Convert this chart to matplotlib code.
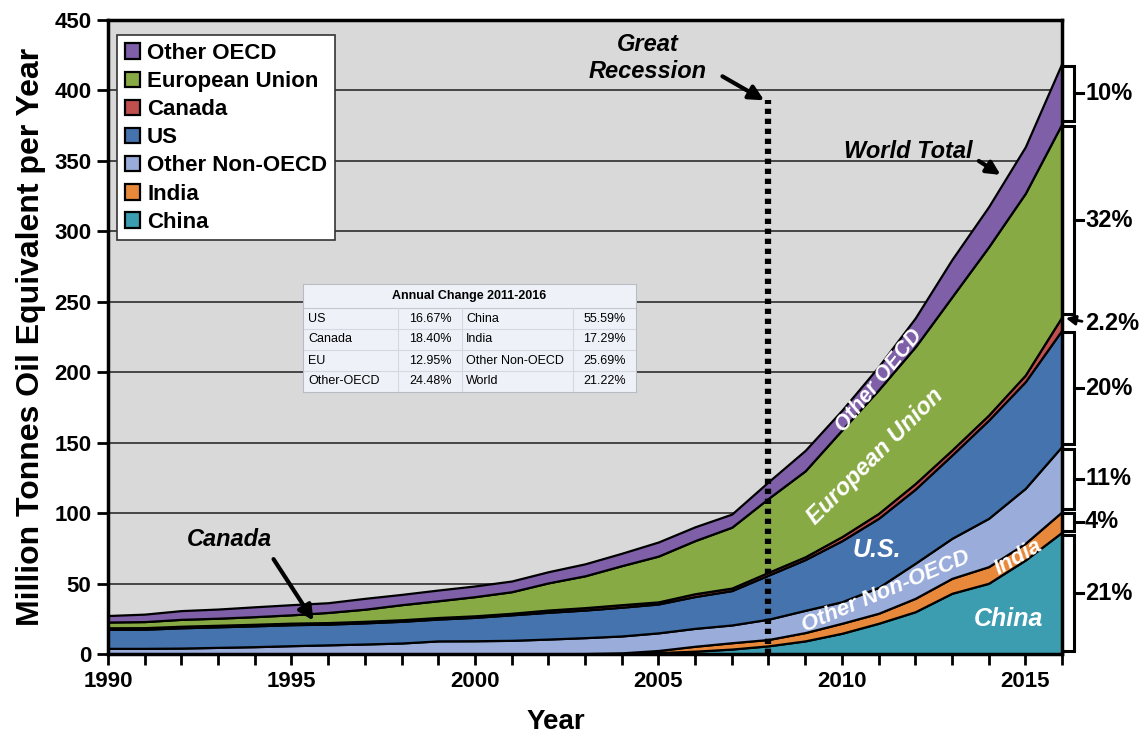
import matplotlib
matplotlib.use('Agg')
import matplotlib.pyplot as plt
import numpy as np

plt.rcParams['font.family'] = ['Liberation Sans', 'DejaVu Sans']

# ---------------- data ----------------
years = list(range(1990, 2017))
china = [0, 0, 0, 0, 0, 0, 0, 0, 0, 0, 0, 0, 0, 0, 0.3, 1.0, 2.0, 3.5, 5.8, 9.3,
         14.7, 21.8, 30.0, 43.1, 50.2, 66.7, 86.5]
india = [0, 0, 0, 0, 0, 0, 0, 0, 0, 0, 0, 0, 0.1, 0.3, 0.5, 1.5, 3.5, 4.5, 4.5, 5.9,
         7.1, 7.1, 9.5, 10.6, 11.8, 11.9, 14.5]
other_non_oecd = [4.0, 4.0, 4.2, 4.7, 5.2, 5.9, 6.5, 7.1, 7.8, 9.3, 9.4, 9.7, 10.5, 11.3,
                  12.0, 12.5, 12.7, 12.6, 14.4, 15.8, 15.3, 18.4, 24.9, 28.4, 34.3, 39.0, 46.5]
us = [13.5, 13.6, 14.4, 14.6, 14.8, 14.9, 14.7, 15.0, 15.4, 15.5, 16.6, 18.1, 19.0, 19.6,
      20.4, 20.5, 22.6, 24.4, 31.3, 36.0, 43.3, 49.0, 52.6, 59.1, 69.7, 75.7, 82.5]
canada = [1.1, 1.1, 1.1, 1.1, 1.1, 1.1, 1.1, 1.1, 1.1, 1.1, 1.1, 1.1, 1.6, 1.7, 1.8, 1.5,
          2.0, 1.8, 2.0, 2.0, 2.9, 3.5, 4.0, 3.6, 3.6, 4.7, 9.5]
eu = [4.1, 4.3, 4.9, 5.0, 5.4, 5.9, 7.2, 8.6, 10.7, 11.9, 13.6, 15.3, 19.3, 22.6, 27.7,
      32.5, 37.7, 43.2, 52.5, 61.0, 75.7, 87.7, 97.0, 108.7, 119.4, 129.0, 137.0]
other_oecd = [4.6, 5.3, 6.2, 6.5, 7.0, 7.2, 6.9, 7.7, 7.3, 7.6, 7.6, 7.6, 7.9, 8.5, 8.8,
              10.0, 9.8, 9.3, 11.8, 14.5, 14.0, 16.5, 20.5, 26.5, 28.5, 33.0, 43.0]

series_names = ['China', 'India', 'Other Non-OECD', 'US', 'Canada',
                'European Union', 'Other OECD']
share_labels = ['21%', '4%', '11%', '20%', '2.2%', '32%', '10%']
colors = ['#3c9cb0', '#e8883a', '#9aacda', '#4573ad', '#c0504d', '#88aa44', '#7e5fa8']

table_title = 'Annual Change 2011-2016'
table_left_names = ['US', 'Canada', 'EU', 'Other-OECD']
table_left_vals = ['16.67%', '18.40%', '12.95%', '24.48%']
table_right_names = ['China', 'India', 'Other Non-OECD', 'World']
table_right_vals = ['55.59%', '17.29%', '25.69%', '21.22%']

recession_year = 2008

# ---------------- figure ----------------
W, H = 1146, 738
fig = plt.figure(figsize=(W / 100, H / 100), dpi=100)
fig.patch.set_facecolor('white')
ax = fig.add_axes([108 / W, 84 / H, 954 / W, 634 / H])
ax.set_facecolor('#d9d9d9')

data = [china, india, other_non_oecd, us, canada, eu, other_oecd]
polys = ax.stackplot(years, *data, colors=colors, edgecolor='black',
                     linewidth=1.6, labels=series_names, zorder=2)

ax.set_xlim(1990, 2016)
ax.set_ylim(0, 450)
ax.set_yticks(np.arange(0, 451, 50))
ax.set_xticks(np.arange(1990, 2016, 5))
ax.set_xticks(np.arange(1990, 2017, 1), minor=True)
ax.yaxis.grid(True, color='#3a3a3a', lw=1.3, zorder=0)
ax.set_axisbelow(True)
for s in ax.spines.values():
    s.set_linewidth(2.5)
    s.set_color('black')
    s.set_zorder(5)
ax.tick_params(axis='both', which='both', direction='out', width=2, length=8,
               labelsize=16, pad=4)
for lab in ax.get_xticklabels() + ax.get_yticklabels():
    lab.set_fontweight('bold')
ax.set_ylabel('Million Tonnes Oil Equivalent per Year', fontsize=23,
              fontweight='bold', labelpad=6)
ax.set_xlabel('Year', fontsize=20, fontweight='bold', labelpad=14)
ax.xaxis.set_label_coords(0.469, -0.086)

# legend
handles = polys[::-1]
leg = ax.legend(handles, series_names[::-1], loc='upper left',
                bbox_to_anchor=(0.0095, 0.976), borderaxespad=0,
                prop={'weight': 'bold', 'size': 16}, fancybox=False,
                edgecolor='#333333', framealpha=1, handlelength=0.7,
                handleheight=0.7, handletextpad=0.3, labelspacing=0.32,
                borderpad=0.35)
leg.get_frame().set_linewidth(1.2)
leg.set_zorder(6)

# Great Recession dotted line
ax.plot([recession_year, recession_year], [0, 393], color='black', lw=4.5,
        linestyle=(0, (0.85, 0.75)), dash_capstyle='butt', zorder=4)
ax.text(2004.71, 423, 'Great\nRecession', ha='center', va='center',
        fontsize=17, fontweight='bold', style='italic', linespacing=1.2, zorder=6)
ax.annotate('', xy=(2007.95, 392), xytext=(2006.68, 411),
            arrowprops=dict(arrowstyle='-|>', color='black', lw=3,
                            mutation_scale=22), zorder=6)

# Canada annotation
ax.text(1993.3, 81, 'Canada', ha='center', va='center', fontsize=17,
        fontweight='bold', style='italic', zorder=6)
ax.annotate('', xy=(1995.64, 22), xytext=(1994.47, 69),
            arrowprops=dict(arrowstyle='-|>', color='black', lw=3,
                            mutation_scale=22), zorder=6)

# World total annotation
ax.text(2011.8, 357, 'World Total', ha='center', va='center', fontsize=17,
        fontweight='bold', style='italic', zorder=6)
ax.annotate('', xy=(2014.39, 339), xytext=(2013.67, 351),
            arrowprops=dict(arrowstyle='-|>', color='black', lw=3,
                            mutation_scale=20), zorder=6)

# in-area labels
lab_kw = dict(color='white', fontweight='bold', style='italic', ha='center',
              va='center', zorder=6, rotation_mode='anchor')
ax.text(2014.55, 25, 'China', fontsize=18, **lab_kw)
ax.text(2014.8, 69, 'India', fontsize=16, rotation=30, **lab_kw)
ax.text(2011.2, 44, 'Other Non-OECD', fontsize=16, rotation=23, **lab_kw)
ax.text(2010.95, 74, 'U.S.', fontsize=18, **lab_kw)
ax.text(2010.92, 140, 'European Union', fontsize=17, rotation=45, **lab_kw)
ax.text(2011.02, 194, 'Other OECD', fontsize=15.5, rotation=51, **lab_kw)

# right-hand share brackets
tops = np.cumsum([d[-1] for d in data])
bottoms = np.concatenate([[0], tops[:-1]])
xl, xv, xt, xlab = 2016.02, 2016.33, 2016.57, 2016.63
for i, lab in enumerate(share_labels):
    lo, hi = bottoms[i], tops[i]
    mid = (lo + hi) / 2
    if series_names[i] == 'Canada':
        ax.annotate('', xy=(2016.03, mid + 4), xytext=(2016.62, mid + 1),
                    arrowprops=dict(arrowstyle='-|>', color='black', lw=2,
                                    mutation_scale=14),
                    annotation_clip=False)
        ax.text(xlab, mid, lab, ha='left', va='center', fontsize=17,
                fontweight='bold', clip_on=False)
        continue
    g = 1.8 if hi - lo > 20 else 0.8
    y0, y1 = lo + g, hi - g
    ax.plot([xl, xv, xv, xl], [y0, y0, y1, y1], color='black', lw=2.2,
            clip_on=False, solid_joinstyle='miter', zorder=6)
    ax.plot([xv, xt], [mid, mid], color='black', lw=2.2, clip_on=False, zorder=6)
    ax.text(xlab, mid, lab, ha='left', va='center', fontsize=17,
            fontweight='bold', clip_on=False)

# ---------------- table ----------------
tx0, tx1, ty0, ty1 = 303, 636, 284, 392
tax = fig.add_axes([tx0 / W, 1 - ty1 / H, (tx1 - tx0) / W, (ty1 - ty0) / H])
tax.set_xlim(tx0, tx1)
tax.set_ylim(ty1, ty0)
tax.set_facecolor('#eef2f8')
for s in tax.spines.values():
    s.set_color('#b8bcc4')
    s.set_linewidth(0.8)
tax.set_xticks([])
tax.set_yticks([])
header_bottom = 308
row_h = (ty1 - header_bottom) / 4
tax.text((tx0 + tx1) / 2, (ty0 + header_bottom) / 2, table_title, ha='center',
         va='center', fontsize=9, fontweight='bold')
tax.axhline(header_bottom, color='#c4c8d0', lw=0.8)
for r in range(4):
    yc = header_bottom + row_h * (r + 0.5)
    if r > 0:
        tax.axhline(header_bottom + row_h * r, color='#d4d8e0', lw=0.8)
    tax.text(308, yc, table_left_names[r], ha='left', va='center', fontsize=9)
    tax.text(452, yc, table_left_vals[r], ha='right', va='center', fontsize=9)
    tax.text(466, yc, table_right_names[r], ha='left', va='center', fontsize=9)
    tax.text(626, yc, table_right_vals[r], ha='right', va='center', fontsize=9)
for xs in (398, 462, 573):
    tax.plot([xs, xs], [header_bottom, ty1], color='#d4d8e0', lw=0.8)

fig.savefig('out.png', dpi=100, facecolor='white')
